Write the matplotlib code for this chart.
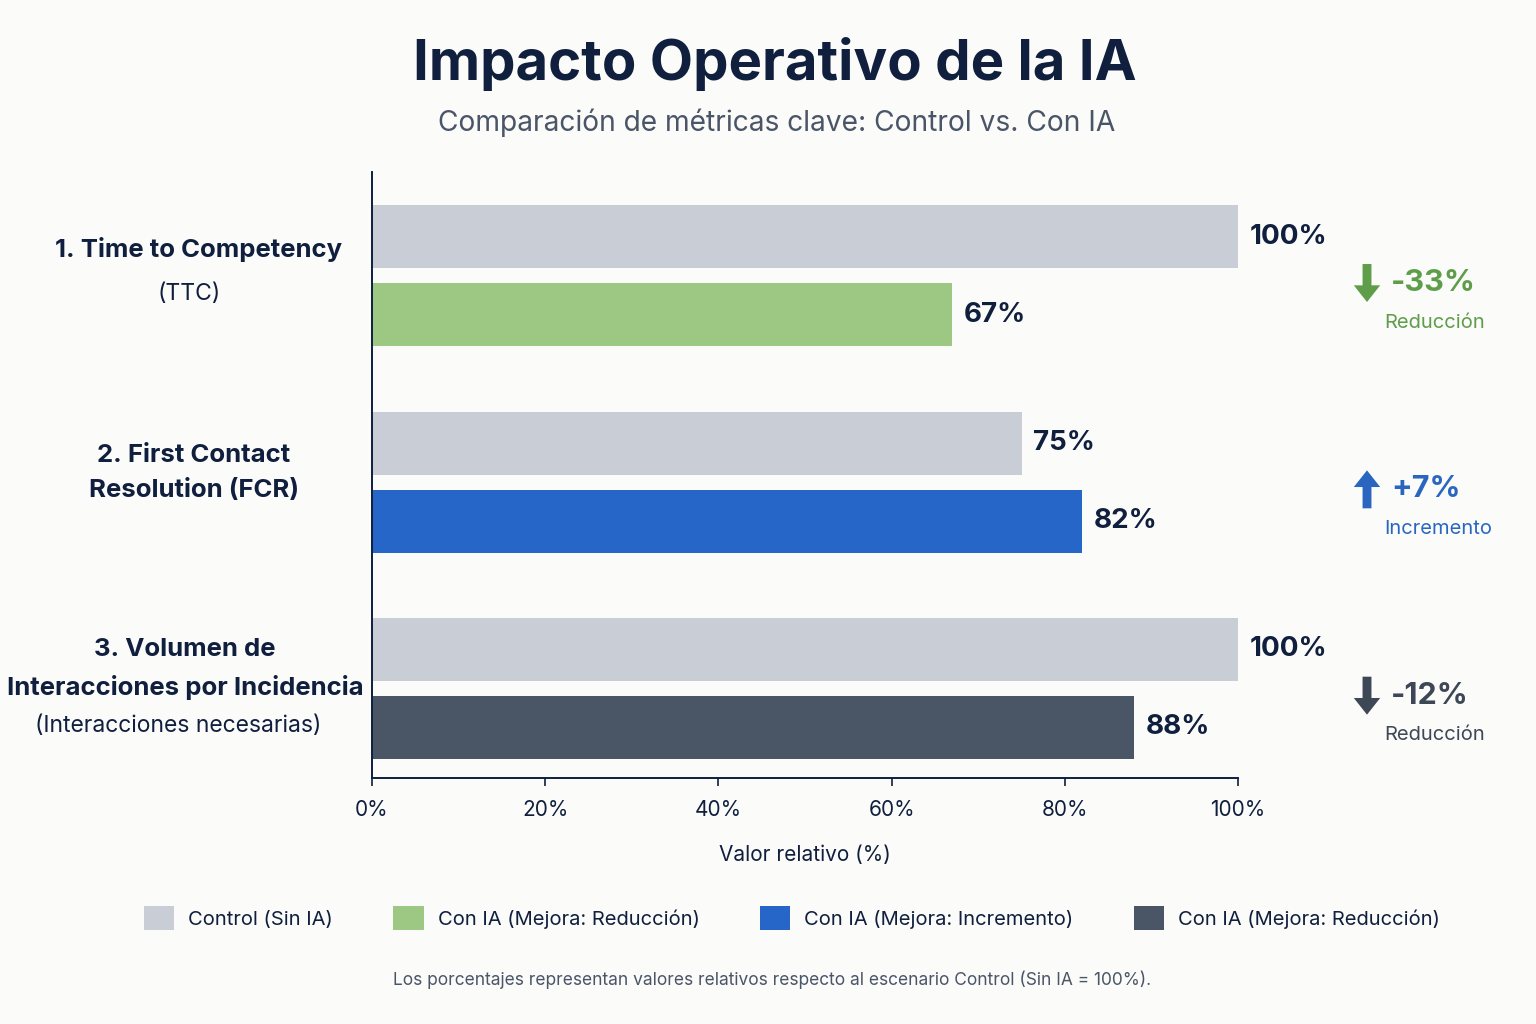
import matplotlib
matplotlib.use("Agg")
import matplotlib.pyplot as plt
import matplotlib.transforms as mtransforms
from matplotlib.patches import Patch

# ---------------- data ----------------
category_titles = ["1. Time to Competency", "2. First Contact\nResolution (FCR)",
                   "3. Volumen de\nInteracciones por Incidencia"]
category_subtitles = ["(TTC)", "", "(Interacciones necesarias)"]
control_values = [100, 75, 100]
ia_values = [67, 82, 88]
change_texts = ["-33%", "+7%", "-12%"]
change_kinds = ["Reducción", "Incremento", "Reducción"]
change_dirs = ["down", "up", "down"]
x_ticks = [0, 20, 40, 60, 80, 100]
legend_labels = ["Control (Sin IA)", "Con IA (Mejora: Reducción)",
                 "Con IA (Mejora: Incremento)", "Con IA (Mejora: Reducción)"]

# ---------------- styles ----------------
BG = "#FBFBF9"
NAVY = "#0F1F3D"
GRAY_TXT = "#4A5568"
CONTROL_C = "#C8CDD6"
IA_COLORS = ["#9DC883", "#2566C8", "#4A5566"]
NOTE_COLORS = ["#5E9E4A", "#2A66C0", "#3E4756"]
FONT = "Inter"

plt.rcParams["font.family"] = [FONT, "DejaVu Sans"]

fig = plt.figure(figsize=(15.36, 10.24), dpi=100, facecolor=BG)
ax = fig.add_axes([372 / 1536, 1 - 778 / 1024, (1238 - 372) / 1536, (778 - 172) / 1024])
ax.set_facecolor(BG)

off = 0.189
h = 0.305
ys = list(range(len(control_values)))
ax.barh([y - off for y in ys], control_values, height=h, color=CONTROL_C, zorder=2)
ax.barh([y + off for y in ys], ia_values, height=h, color=IA_COLORS, zorder=2)

for y, v in zip(ys, control_values):
    ax.text(v + 1.3, y - off, f"{v}%", va="center", ha="left", fontsize=20,
            fontweight="bold", color=NAVY)
for y, v in zip(ys, ia_values):
    ax.text(v + 1.3, y + off, f"{v}%", va="center", ha="left", fontsize=20,
            fontweight="bold", color=NAVY)

ax.set_xlim(0, 100)
ax.set_ylim(2.434, -0.503)
ax.set_yticks([])
ax.set_xticks(x_ticks)
ax.set_xticklabels([f"{t}%" for t in x_ticks], fontsize=15, color=NAVY)
ax.tick_params(axis="x", length=6, width=1.2, color=NAVY, pad=10)
for s in ["top", "right"]:
    ax.spines[s].set_visible(False)
for s in ["left", "bottom"]:
    ax.spines[s].set_color(NAVY)
    ax.spines[s].set_linewidth(1.4)
ax.set_xlabel("Valor relativo (%)", fontsize=15, color=NAVY, labelpad=18)

# category labels (left)
blend = mtransforms.blended_transform_factory(fig.transFigure, ax.transData)
main_off = [-0.125, -0.045, -0.092]
sub_off = [0.088, 0.0, 0.182]
main_x = [199, 194, 185]
sub_x = [189, 189, 178]
for y, t, s, mo, so, mx, sx in zip(ys, category_titles, category_subtitles,
                                   main_off, sub_off, main_x, sub_x):
    ax.text(mx / 1536, y + mo, t, transform=blend, ha="center", va="center",
            fontsize=18.5, fontweight="bold", color=NAVY, linespacing=1.7)
    if s:
        ax.text(sx / 1536, y + so, s, transform=blend, ha="center", va="center",
                fontsize=16.5, color=NAVY)

# change annotations (right)
for y, ct, ck, d, c in zip(ys, change_texts, change_kinds, change_dirs, NOTE_COLORS):
    yc = y + 0.035
    ax.text(1391 / 1536, yc, ct, transform=blend, ha="left", va="center",
            fontsize=22, fontweight="bold", color=c)
    ax.text(1384 / 1536, y + 0.228, ck, transform=blend, ha="left", va="center",
            fontsize=14.5, color=c)
    half = 0.092
    y0, y1 = (yc - half, yc + half) if d == "down" else (yc + half, yc - half)
    ax.annotate("", xy=(1367 / 1536, y1), xytext=(1367 / 1536, y0),
                xycoords=blend, textcoords=blend,
                arrowprops=dict(arrowstyle="simple,head_length=0.6,head_width=0.95,tail_width=0.32",
                                mutation_scale=20, color=c, shrinkA=0, shrinkB=0, lw=0))

# titles
fig.text(775 / 1536, 1 - 64 / 1024, "Impacto Operativo de la IA", ha="center", va="center",
         fontsize=40.5, fontweight="bold", color=NAVY)
fig.text(777 / 1536, 1 - 123 / 1024, "Comparación de métricas clave: Control vs. Con IA",
         ha="center", va="center", fontsize=20.3, color=GRAY_TXT)

# legend
handles = [Patch(facecolor=CONTROL_C)] + [Patch(facecolor=c) for c in IA_COLORS]
fig.legend(handles, legend_labels, loc="center", bbox_to_anchor=(792 / 1536, 1 - 918 / 1024),
           ncol=4, frameon=False, fontsize=14.5, handlelength=1.5, handleheight=1.5,
           handletextpad=0.7, columnspacing=3.0, labelcolor=NAVY)

fig.text(772 / 1536, 1 - 980 / 1024,
         "Los porcentajes representan valores relativos respecto al escenario Control (Sin IA = 100%).",
         ha="center", va="center", fontsize=12.5, color=GRAY_TXT)

fig.savefig("out.png", dpi=100, facecolor=BG)
